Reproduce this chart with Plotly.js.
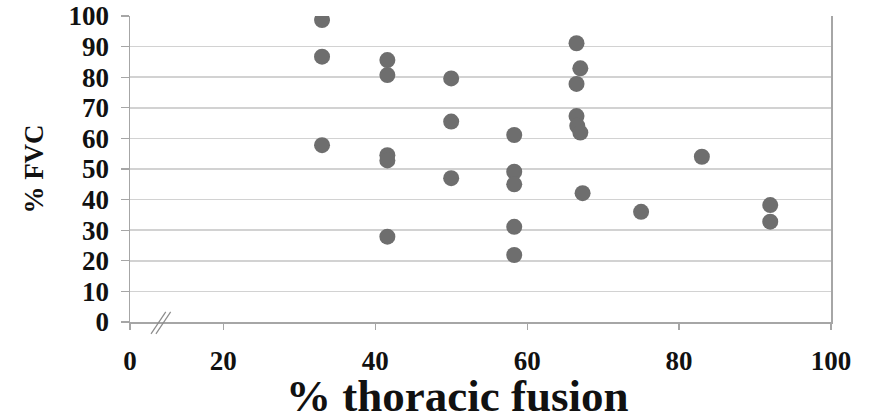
<!DOCTYPE html>
<html>
<head>
<meta charset="utf-8">
<script src="https://cdn.plot.ly/plotly-3.0.1.min.js"></script>
<style>
  html, body { margin: 0; padding: 0; background: #ffffff; }
  #chart { width: 876px; height: 420px; }
</style>
</head>
<body>
<div id="chart"></div>
<script>
// Data
const fusionPct = [33, 33, 33, 41.6, 41.6, 41.6, 41.6, 41.6, 50, 50, 50, 58.3, 58.3, 58.3, 58.3, 58.3, 66.5, 67, 66.5, 66.5, 66.6, 67, 67.3, 75, 83, 92, 92];
const fvcPct    = [98.7, 86.7, 57.8, 85.6, 80.7, 54.5, 52.8, 27.9, 79.6, 65.5, 47, 61.1, 49.1, 45, 31.1, 21.9, 91.1, 82.9, 77.8, 67.3, 64.1, 61.9, 42.1, 36, 54, 38.2, 32.8];

// Axis ticks (x axis is broken: its left end is labelled 0)
const xAxisStart = 7.72;
const xTickVals = [xAxisStart, 20, 40, 60, 80, 100];
const xTickText = ['0', '20', '40', '60', '80', '100'];
const yTickVals = [0, 10, 20, 30, 40, 50, 60, 70, 80, 90, 100];
const xTitle = '% thoracic fusion';
const yTitle = '% FVC';

const serif = 'Liberation Serif, Times New Roman, serif';

const trace = {
  type: 'scatter',
  mode: 'markers',
  x: fusionPct,
  y: fvcPct,
  marker: { color: '#6e6e6e', size: 16, line: { width: 0 } },
  hoverinfo: 'x+y'
};

const layout = {
  width: 876,
  height: 420,
  margin: { l: 130, r: 45, t: 16, b: 98 },
  paper_bgcolor: '#ffffff',
  plot_bgcolor: '#ffffff',
  showlegend: false,
  font: { family: serif, color: '#111111' },
  xaxis: {
    range: [xAxisStart, 100],
    tickmode: 'array',
    tickvals: xTickVals,
    ticktext: xTickText,
    showgrid: false,
    zeroline: false,
    showline: true,
    linecolor: '#a6a6a6',
    linewidth: 1.5,
    ticks: 'outside',
    ticklen: 6,
    tickwidth: 1.2,
    tickcolor: '#a6a6a6',
    ticklabelstandoff: 8,
    tickfont: { family: serif, size: 27, weight: 'bold', color: '#111111' }
  },
  yaxis: {
    range: [0, 100],
    tickmode: 'array',
    tickvals: yTickVals,
    showgrid: true,
    gridcolor: '#d2d2d2',
    gridwidth: 1.5,
    zeroline: false,
    showline: true,
    mirror: true,
    linecolor: '#a6a6a6',
    linewidth: 1.5,
    ticks: 'outside',
    ticklen: 8,
    tickwidth: 1.2,
    tickcolor: '#a6a6a6',
    ticklabelstandoff: 6,
    tickfont: { family: serif, size: 27, weight: 'bold', color: '#111111' },
    title: {
      text: yTitle,
      font: { family: serif, size: 27, weight: 'bold', color: '#111111' },
      standoff: 17
    }
  },
  annotations: [
    {
      text: xTitle, xref: 'paper', yref: 'paper',
      x: 0.4665, y: -0.243, xanchor: 'center', yanchor: 'middle',
      showarrow: false,
      font: { family: serif, size: 45, weight: 'bold', color: '#111111' }
    }
  ],
  shapes: [
    { type: 'line', xref: 'paper', yref: 'paper', x0: 0.030, y0: -0.039, x1: 0.051, y1: 0.033, line: { color: '#8c8c8c', width: 1.2 } },
    { type: 'line', xref: 'paper', yref: 'paper', x0: 0.037, y0: -0.039, x1: 0.058, y1: 0.033, line: { color: '#8c8c8c', width: 1.2 } }
  ]
};

Plotly.newPlot('chart', [trace], layout, { displayModeBar: false, staticPlot: true });
</script>
</body>
</html>
